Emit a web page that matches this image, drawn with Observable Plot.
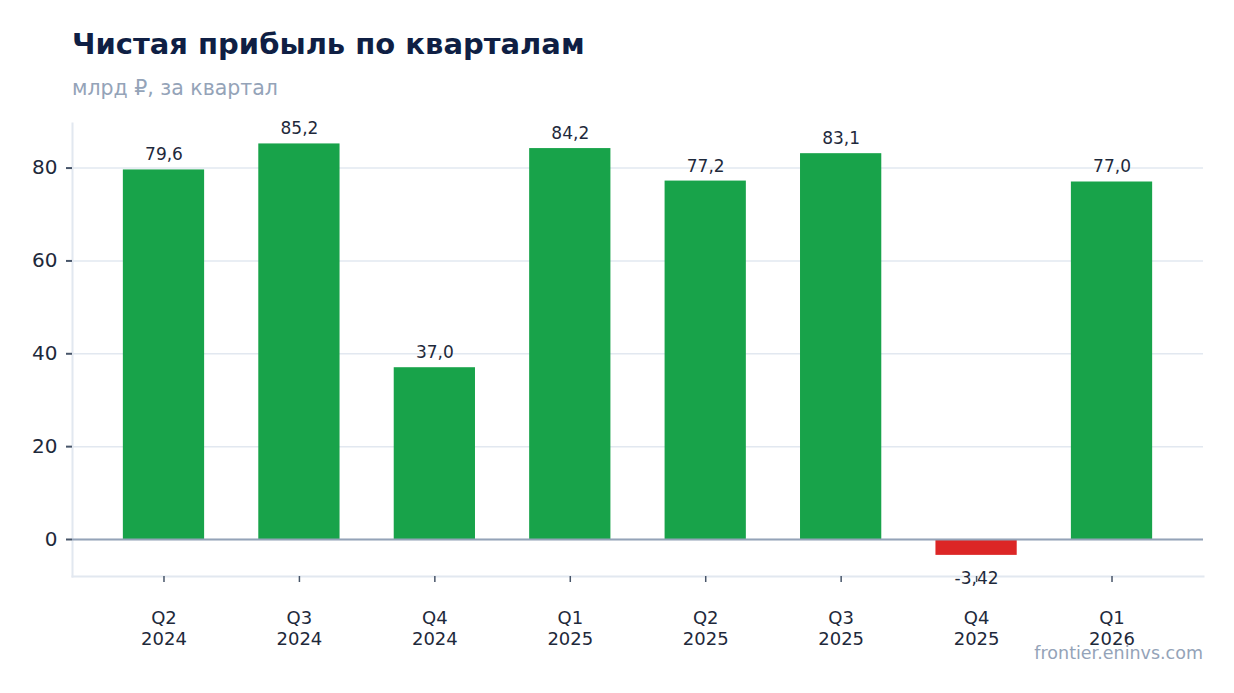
<!DOCTYPE html>
<html>
<head>
<meta charset="utf-8">
<script src="https://cdn.jsdelivr.net/npm/d3@7"></script>
<script src="https://cdn.jsdelivr.net/npm/@observablehq/plot@0.6"></script>
<style>
  html, body { margin: 0; padding: 0; background: #fff; }
  #wrap { position: relative; width: 1234px; height: 693px; font-family: "DejaVu Sans", sans-serif; }
  #title { position: absolute; left: 72px; top: 26px; font-size: 29px; line-height: 36px; font-weight: bold; color: #0f1f44; white-space: nowrap; }
  #subtitle { position: absolute; left: 72px; top: 76px; font-size: 20.5px; line-height: 24px; color: #94a3b8; white-space: nowrap; }
  #caption { position: absolute; right: 31px; top: 642px; font-size: 17.5px; line-height: 22px; color: #94a3b8; white-space: nowrap; }
  #chart { position: absolute; left: 0; top: 0; }
</style>
</head>
<body>
<div id="wrap">
  <div id="chart"></div>
  <div id="title">Чистая прибыль по кварталам</div>
  <div id="subtitle">млрд ₽, за квартал</div>
  <div id="caption">frontier.eninvs.com</div>
</div>
<script>
const quarters = ["Q2", "Q3", "Q4", "Q1", "Q2", "Q3", "Q4", "Q1"];
const years = ["2024", "2024", "2024", "2025", "2025", "2025", "2025", "2026"];
const profit = [79.6, 85.2, 37.0, 84.2, 77.2, 83.1, -3.42, 77.0];
const yTicks = [0, 20, 40, 60, 80];

const data = quarters.map((q, i) => ({ period: q + "\n" + years[i], value: profit[i] }));
const order = data.map(d => d.period);
const fmt = v => (Math.abs(v) < 10 ? v.toFixed(2) : v.toFixed(1)).replace(".", ",");

const chart = Plot.plot({
  width: 1234,
  height: 693,
  marginLeft: 72,
  marginRight: 31,
  marginTop: 123,
  marginBottom: 117,
  style: { fontFamily: "DejaVu Sans, sans-serif", background: "transparent", color: "#1e293b" },
  x: { domain: order, paddingInner: 0.4, paddingOuter: 0.3755, round: false, label: null },
  y: { domain: [-7.97, 89.6], label: null },
  marks: [
    Plot.frame({ anchor: "left", stroke: "#e2e8f0", strokeWidth: 2 }),
    Plot.frame({ anchor: "bottom", stroke: "#e2e8f0", strokeWidth: 2 }),
    Plot.gridY(yTicks, { stroke: "#e2e8f0", strokeOpacity: 1, strokeWidth: 1.5 }),
    Plot.barY(data, {
      x: "period", y: "value",
      fill: d => d.value < 0 ? "#dc2626" : "#18a34a"
    }),
    Plot.ruleY([0], { stroke: "#94a3b8", strokeWidth: 2 }),
    Plot.text(data.filter(d => d.value >= 0), {
      x: "period", y: "value", text: d => fmt(d.value),
      dy: -15, fontSize: 17, fill: "#1e293b"
    }),
    Plot.text(data.filter(d => d.value < 0), {
      x: "period", y: "value", text: d => fmt(d.value),
      dy: 23, fontSize: 17, fill: "#1e293b"
    }),
    Plot.axisY({ ticks: yTicks, tickSize: 6, tickPadding: 9, fontSize: 20, stroke: "#475569", strokeWidth: 2, fill: "#1e293b" }),
    Plot.axisX({ tickSize: 6, tickPadding: 27, fontSize: 18, lineHeight: 1.15, stroke: "#475569", strokeWidth: 1.5, fill: "#1e293b" })
  ]
});
document.getElementById("chart").appendChild(chart);
</script>
</body>
</html>
